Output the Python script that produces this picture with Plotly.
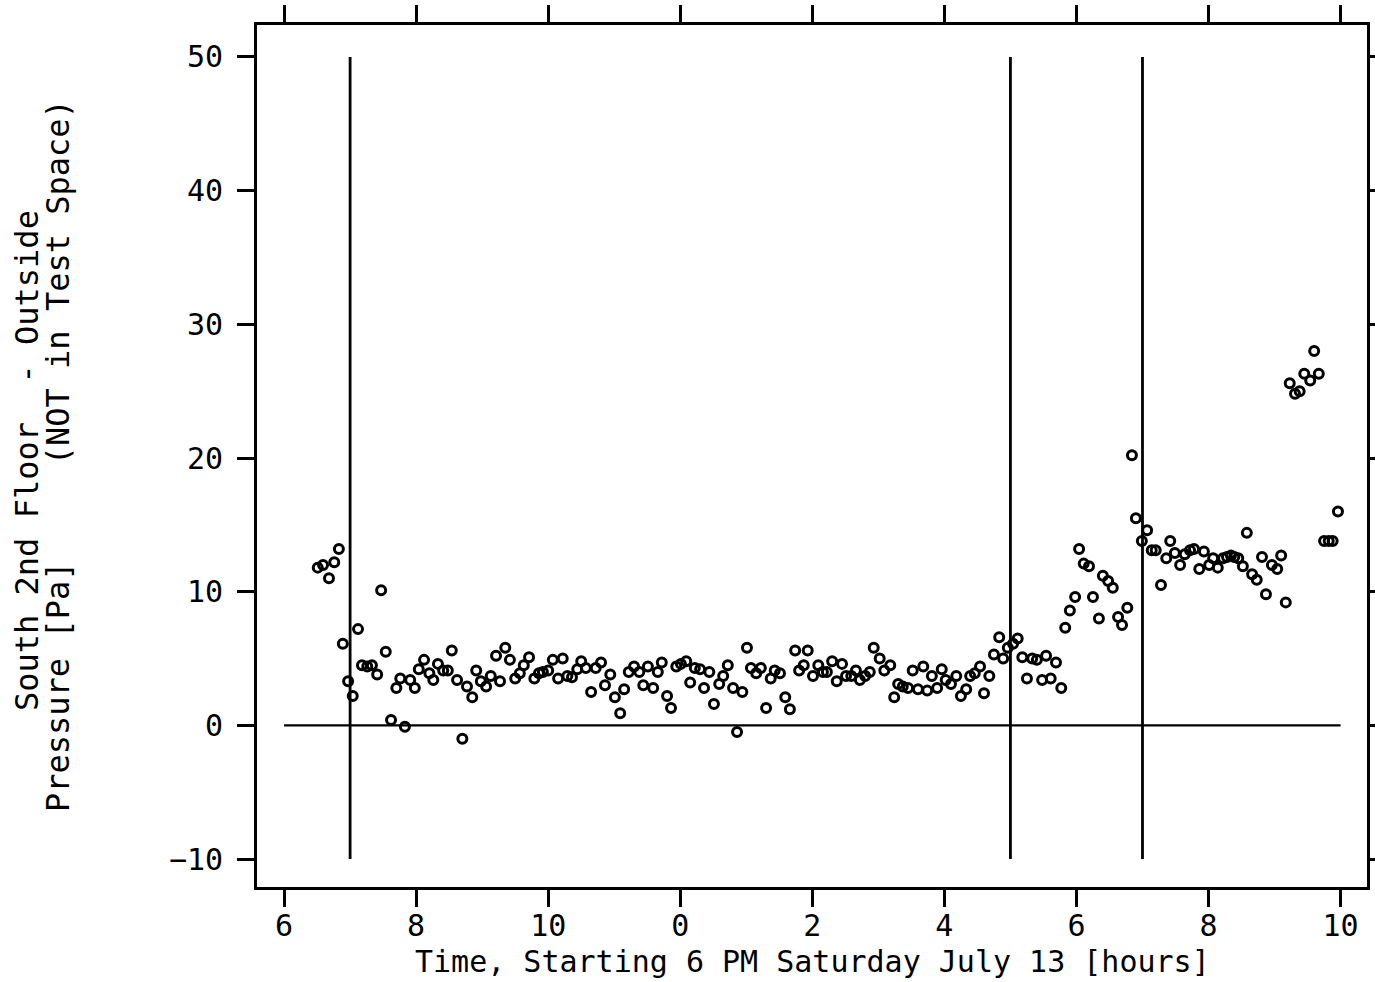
import plotly.graph_objects as go

# Elapsed time in hours since 6 PM Saturday, and pressure difference in Pa
hours = [
    0.51, 0.59, 0.68, 0.76, 0.83, 0.89, 0.97, 1.04, 1.12, 1.18,
    1.26, 1.33, 1.41, 1.47, 1.54, 1.62, 1.70, 1.76, 1.83, 1.91,
    1.98, 2.04, 2.12, 2.20, 2.26, 2.33, 2.41, 2.48, 2.54, 2.62,
    2.70, 2.77, 2.85, 2.91, 2.98, 3.06, 3.13, 3.21, 3.27, 3.35,
    3.42, 3.50, 3.57, 3.63, 3.71, 3.79, 3.86, 3.92, 4.00, 4.07,
    4.15, 4.22, 4.29, 4.36, 4.44, 4.50, 4.57, 4.65, 4.72, 4.80,
    4.86, 4.94, 5.01, 5.09, 5.15, 5.22, 5.30, 5.38, 5.44, 5.51,
    5.59, 5.66, 5.72, 5.80, 5.86, 5.94, 6.01, 6.09, 6.15, 6.22,
    6.30, 6.36, 6.44, 6.51, 6.59, 6.65, 6.72, 6.80, 6.86, 6.94,
    7.01, 7.07, 7.15, 7.22, 7.30, 7.37, 7.43, 7.51, 7.59, 7.66,
    7.74, 7.80, 7.87, 7.93, 8.01, 8.09, 8.16, 8.22, 8.30, 8.37,
    8.45, 8.51, 8.59, 8.66, 8.72, 8.80, 8.87, 8.93, 9.02, 9.09,
    9.18, 9.24, 9.30, 9.37, 9.45, 9.52, 9.60, 9.68, 9.74, 9.81,
    9.89, 9.96, 10.02, 10.10, 10.18, 10.25, 10.33, 10.39, 10.46, 10.54,
    10.60, 10.68, 10.75, 10.83, 10.89, 10.96, 11.04, 11.11, 11.18, 11.25,
    11.33, 11.40, 11.48, 11.54, 11.61, 11.69, 11.77, 11.83, 11.90, 11.98,
    12.04, 12.11, 12.19, 12.25, 12.34, 12.40, 12.48, 12.55, 12.63, 12.69,
    12.77, 12.84, 12.90, 12.99, 13.07, 13.14, 13.20, 13.28, 13.36, 13.42,
    13.49, 13.57, 13.64, 13.72, 13.78, 13.86, 13.93, 14.01, 14.07, 14.14,
    14.22, 14.28, 14.34, 14.39, 14.45, 14.52, 14.58, 14.66, 14.73, 14.81,
    14.87, 14.96, 15.04, 15.10, 15.17, 15.23, 15.31, 15.38, 15.45, 15.54,
    15.60, 15.67, 15.75, 15.82, 15.88, 15.96,
]
pressure = [
    11.8, 12.0, 11.0, 12.2, 13.2, 6.1, 3.3, 2.2, 7.2, 4.5,
    4.4, 4.5, 3.8, 10.1, 5.5, 0.4, 2.8, 3.5, -0.1, 3.4,
    2.8, 4.2, 4.9, 3.9, 3.4, 4.6, 4.1, 4.1, 5.6, 3.4,
    -1.0, 2.9, 2.1, 4.1, 3.3, 2.9, 3.7, 5.2, 3.3, 5.8,
    4.9, 3.5, 3.9, 4.5, 5.1, 3.5, 3.9, 4.0, 4.1, 4.9,
    3.5, 5.0, 3.7, 3.6, 4.2, 4.8, 4.3, 2.5, 4.3, 4.7,
    3.0, 3.8, 2.1, 0.9, 2.7, 4.0, 4.4, 4.0, 3.0, 4.4,
    2.8, 4.0, 4.7, 2.2, 1.3, 4.4, 4.6, 4.8, 3.2, 4.3,
    4.2, 2.8, 4.0, 1.6, 3.1, 3.7, 4.5, 2.8, -0.5, 2.5,
    5.8, 4.3, 3.9, 4.3, 1.3, 3.5, 4.1, 3.9, 2.1, 1.2,
    5.6, 4.1, 4.5, 5.6, 3.7, 4.5, 4.0, 4.0, 4.8, 3.3,
    4.6, 3.7, 3.7, 4.1, 3.4, 3.7, 4.0, 5.8, 5.0, 4.1,
    4.5, 2.1, 3.1, 2.9, 2.8, 4.1, 2.7, 4.4, 2.6, 3.7,
    2.8, 4.2, 3.4, 3.1, 3.7, 2.2, 2.7, 3.7, 3.9, 4.4,
    2.4, 3.7, 5.3, 6.6, 5.0, 5.8, 6.1, 6.5, 5.1, 3.5,
    5.0, 4.9, 3.4, 5.2, 3.5, 4.7, 2.8, 7.3, 8.6, 9.6,
    13.2, 12.1, 11.9, 9.6, 8.0, 11.2, 10.8, 10.3, 8.1, 7.5,
    8.8, 20.2, 15.5, 13.8, 14.6, 13.1, 13.1, 10.5, 12.5, 13.8,
    12.9, 12.0, 12.8, 13.1, 13.2, 11.7, 13.0, 12.0, 12.5, 11.8,
    12.5, 12.6, 12.7, 12.6, 12.5, 11.9, 14.4, 11.3, 10.9, 12.6,
    9.8, 12.0, 11.7, 12.7, 9.2, 25.6, 24.8, 25.0, 26.3, 25.8,
    28.0, 26.3, 13.8, 13.8, 13.8, 16.0,
]

# Axis ticks: hours since 6 PM, labelled with clock hour
tick_hours = [0, 2, 4, 6, 8, 10, 12, 14, 16]
tick_labels = ["6", "8", "10", "0", "2", "4", "6", "8", "10"]
y_ticks = [-10, 0, 10, 20, 30, 40, 50]

# Event markers (7 PM, 5 AM, 7 AM) and the zero reference line
event_hours = [1, 11, 13]
event_span = [-10, 50]
zero_span_hours = [0, 16]
zero_level = [0, 0]

FONT = "DejaVu Sans Mono"
INK = "black"

fig = go.Figure()

for h in event_hours:
    fig.add_trace(go.Scatter(
        x=[h, h], y=event_span, mode="lines",
        line=dict(color=INK, width=2.8), showlegend=False, hoverinfo="skip",
    ))

fig.add_trace(go.Scatter(
    x=zero_span_hours, y=zero_level, mode="lines",
    line=dict(color=INK, width=2.2), showlegend=False, hoverinfo="skip",
))

fig.add_trace(go.Scatter(
    x=hours, y=pressure, mode="markers",
    marker=dict(symbol="circle-open", size=9, color=INK, line=dict(width=3, color=INK)),
    showlegend=False,
))

axis_common = dict(
    showline=True, linecolor=INK, linewidth=2.8, mirror="allticks",
    ticks="outside", ticklen=17, tickwidth=2.8, tickcolor=INK,
    showgrid=False, zeroline=False, automargin=False,
    tickfont=dict(family=FONT, size=30, color=INK),
)

fig.update_layout(
    width=1375, height=982,
    margin=dict(l=257, r=8, t=25, b=95),
    paper_bgcolor="white", plot_bgcolor="white",
    xaxis=dict(range=[-0.41, 16.40], tickmode="array",
               tickvals=tick_hours, ticktext=tick_labels,
               ticklabelstandoff=-7, **axis_common),
    yaxis=dict(range=[-12.09, 52.39], tickmode="array",
               tickvals=y_ticks, ticklabelstandoff=8, **axis_common),
    annotations=[
        dict(text="Time, Starting 6 PM Saturday July 13 [hours]",
             xref="paper", yref="paper", x=0.5, y=-0.087,
             xanchor="center", yanchor="middle", showarrow=False,
             font=dict(family=FONT, size=30, color=INK)),
        dict(text="South 2nd Floor\u00a0\u00a0-\u00a0Outside",
             xref="paper", yref="paper", x=(27 - 257) / 1110, y=(887 - 461) / 862,
             xanchor="center", yanchor="middle", textangle=-90, showarrow=False,
             font=dict(family=FONT, size=32, color=INK)),
        dict(text="Pressure [Pa]\u00a0\u00a0\u00a0\u00a0\u00a0(NOT in Test Space)",
             xref="paper", yref="paper", x=(58 - 257) / 1110, y=(887 - 456) / 862,
             xanchor="center", yanchor="middle", textangle=-90, showarrow=False,
             font=dict(family=FONT, size=32, color=INK)),
    ],
)

fig.write_html("out.html")
